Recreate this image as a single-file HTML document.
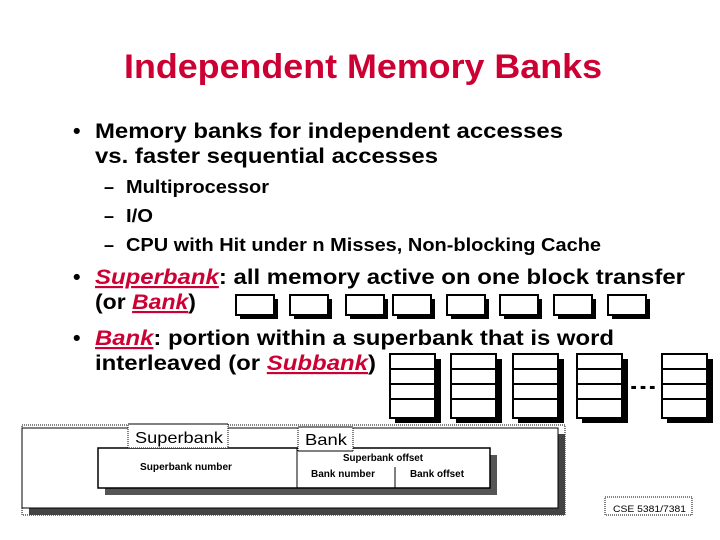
<!DOCTYPE html>
<html><head><style>
body{margin:0;width:720px;height:540px;background:#fff;position:relative;overflow:hidden;font-family:"Liberation Sans",Arial,sans-serif;}
svg{position:absolute;left:0;top:0}
text{font-family:"Liberation Sans",Arial,sans-serif;}
.b{font-weight:bold;font-size:21.5px;}
.s{font-weight:bold;font-size:18px;}
.r{fill:#cc0033;font-style:italic;text-decoration:underline;}
</style></head><body>
<svg width="720" height="540">
<text x="124" y="78" font-weight="bold" font-size="34" fill="#cc0033" textLength="478" lengthAdjust="spacingAndGlyphs">Independent Memory Banks</text>
<g class="b">
<text x="73" y="138">•</text>
<text x="95" y="138" textLength="468" lengthAdjust="spacingAndGlyphs">Memory banks for independent accesses</text>
<text x="95" y="163" textLength="343" lengthAdjust="spacingAndGlyphs">vs. faster sequential accesses</text>
<text x="73" y="284">•</text>
<text x="95" y="284" textLength="590" lengthAdjust="spacingAndGlyphs"><tspan class="r">Superbank</tspan>: all memory active on one block transfer</text>
<text x="95" y="309" textLength="101" lengthAdjust="spacingAndGlyphs">(or <tspan class="r">Bank</tspan>)</text>
<text x="73" y="345">•</text>
<text x="95" y="345" textLength="519" lengthAdjust="spacingAndGlyphs"><tspan class="r">Bank</tspan>: portion within a superbank that is word</text>
<text x="95" y="370" textLength="281" lengthAdjust="spacingAndGlyphs">interleaved (or <tspan class="r">Subbank</tspan>)</text>
</g>
<g class="s">
<text x="104" y="193">–</text><text x="126" y="193" textLength="143" lengthAdjust="spacingAndGlyphs">Multiprocessor</text>
<text x="104" y="222">–</text><text x="126" y="222" textLength="27" lengthAdjust="spacingAndGlyphs">I/O</text>
<text x="104" y="251">–</text><text x="126" y="251" textLength="475" lengthAdjust="spacingAndGlyphs">CPU with Hit under n Misses, Non-blocking Cache</text>
</g>
<g stroke="#000" stroke-width="2">
<g fill="#000" stroke="none">
<rect x="240" y="299" width="38" height="20"/><rect x="294" y="299" width="38" height="20"/><rect x="350" y="299" width="38" height="20"/><rect x="397" y="299" width="38" height="20"/><rect x="451" y="299" width="38" height="20"/><rect x="504" y="299" width="38" height="20"/><rect x="558" y="299" width="38" height="20"/><rect x="612" y="299" width="38" height="20"/>
</g>
<g fill="#fff">
<rect x="236" y="295" width="38" height="20"/><rect x="290" y="295" width="38" height="20"/><rect x="346" y="295" width="38" height="20"/><rect x="393" y="295" width="38" height="20"/><rect x="447" y="295" width="38" height="20"/><rect x="500" y="295" width="38" height="20"/><rect x="554" y="295" width="38" height="20"/><rect x="608" y="295" width="38" height="20"/>
</g>
<g fill="#000" stroke="none">
<rect x="395" y="359" width="46" height="64"/><rect x="456" y="359" width="46" height="64"/><rect x="518" y="359" width="46" height="64"/><rect x="582" y="359" width="46" height="64"/><rect x="667" y="359" width="46" height="64"/>
</g>
<g fill="#fff">
<rect x="390" y="354" width="45" height="64"/><rect x="451" y="354" width="45" height="64"/><rect x="513" y="354" width="45" height="64"/><rect x="577" y="354" width="45" height="64"/><rect x="662" y="354" width="45" height="64"/>
</g>
<path d="M390 369h45M390 384h45M390 399h45M451 369h45M451 384h45M451 399h45M513 369h45M513 384h45M513 399h45M577 369h45M577 384h45M577 399h45M662 369h45M662 384h45M662 399h45"/>
</g>
<text x="629" y="389" font-weight="bold" font-size="20" textLength="28" lengthAdjust="spacingAndGlyphs">...</text>
<rect x="22" y="425" width="543" height="90" fill="none" stroke="#000" stroke-dasharray="1,1"/>
<rect x="29" y="434" width="536" height="81" fill="#444"/>
<rect x="22" y="428" width="536" height="80" fill="#fff" stroke="#000"/>
<rect x="105" y="455" width="392" height="40" fill="#555"/>
<rect x="98" y="448" width="392" height="40" fill="#fff" stroke="#000" stroke-width="1.5"/>
<path d="M297 448v40M395 467v21" stroke="#000"/>
<rect x="128" y="424" width="100" height="24" fill="#fff" stroke="#000" stroke-dasharray="1,1"/>
<path d="M128 424h100" stroke="#000"/>
<rect x="298" y="427" width="55" height="24" fill="#fff" stroke="#000" stroke-dasharray="1,1"/>
<path d="M298 451h55M298 427h55" stroke="#000"/>
<g fill="#000">
<text x="135" y="443" font-size="16" textLength="88" lengthAdjust="spacingAndGlyphs">Superbank</text>
<text x="305" y="445" font-size="16" textLength="42" lengthAdjust="spacingAndGlyphs">Bank</text>
<text x="140" y="470" font-size="10" font-weight="bold" textLength="92" lengthAdjust="spacingAndGlyphs">Superbank number</text>
<text x="343" y="461" font-size="10" font-weight="bold" textLength="80" lengthAdjust="spacingAndGlyphs">Superbank offset</text>
<text x="311" y="477" font-size="10" font-weight="bold" textLength="64" lengthAdjust="spacingAndGlyphs">Bank number</text>
<text x="410" y="477" font-size="10" font-weight="bold" textLength="54" lengthAdjust="spacingAndGlyphs">Bank offset</text>
<text x="613" y="512" font-size="9" textLength="73" lengthAdjust="spacingAndGlyphs">CSE 5381/7381</text>
</g>
<rect x="605" y="497" width="87" height="18" fill="none" stroke="#000" stroke-dasharray="1,1"/>
</svg>
</body></html>
